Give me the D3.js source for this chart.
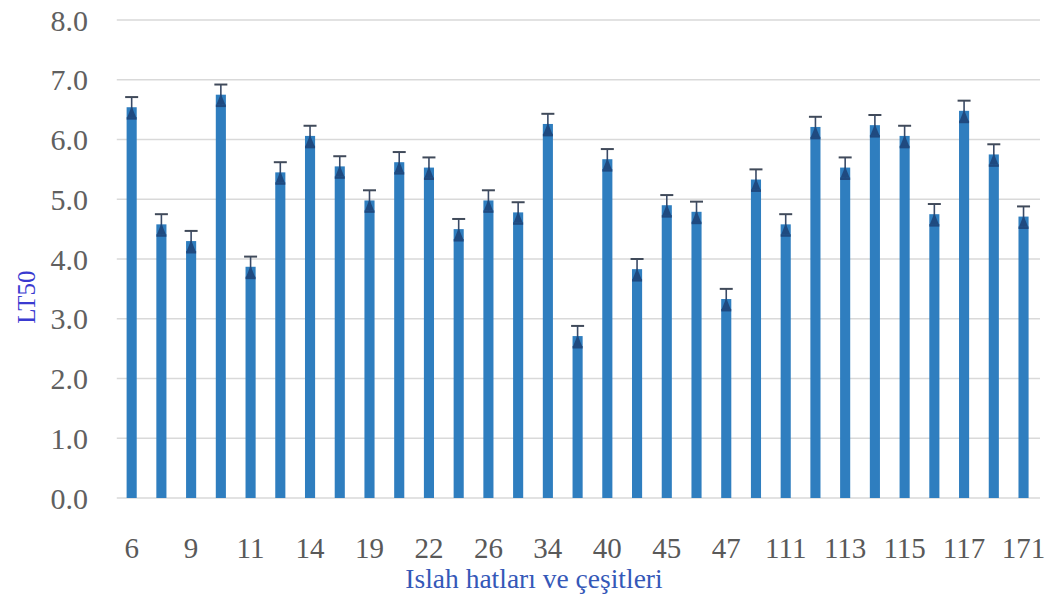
<!DOCTYPE html>
<html>
<head>
<meta charset="utf-8">
<script src="https://cdn.jsdelivr.net/npm/d3@7"></script>
<style>
  html, body { margin: 0; padding: 0; background: #ffffff; }
  svg { display: block; }
</style>
</head>
<body>
<svg id="chart" width="1054" height="596"></svg>
<script>
// Categories (every other label is shown on the axis, as in the original)
const categories = ["6","8","9","10","11","12","14","18","19","20","22","25","26","33","34","38",
                    "40","42","45","46","47","110","111","112","113","114","115","116","117","170","171"];
const lt50Values = [6.54,4.58,4.30,6.75,3.87,5.45,6.06,5.55,4.98,5.62,5.53,4.50,4.98,4.78,6.26,2.71,
                    5.67,3.83,4.90,4.79,3.33,5.33,4.58,6.21,5.53,6.24,6.06,4.75,6.48,5.75,4.71];
const lt50Errors = [0.17,0.17,0.17,0.17,0.17,0.17,0.17,0.17,0.17,0.17,0.17,0.17,0.17,0.17,0.17,0.17,
                    0.17,0.17,0.17,0.17,0.17,0.17,0.17,0.17,0.17,0.17,0.17,0.17,0.17,0.17,0.17];
const yTicks = [0,1,2,3,4,5,6,7,8];
const shownLabels = categories.filter((d, i) => i % 2 === 0);

const svg = d3.select("#chart");
const plot = { left: 116.8, right: 1038.4, top: 20, bottom: 498 };
const gridRight = 1040;

const x = d3.scaleBand().domain(categories).range([plot.left, plot.right])
  .paddingInner(0.66).paddingOuter(0.33);
const y = d3.scaleLinear().domain([0, 8]).range([plot.bottom, plot.top]);

// Gridlines
svg.append("g").selectAll("line").data(yTicks).join("line")
  .attr("x1", plot.left).attr("x2", gridRight)
  .attr("y1", d => y(d)).attr("y2", d => y(d))
  .attr("stroke", "#d9d9d9").attr("stroke-width", 1.6);

// Y axis labels
const yAxis = d3.axisLeft(y).tickValues(yTicks).tickFormat(d3.format(".1f")).tickSize(0).tickPadding(0);
const gy = svg.append("g").attr("transform", "translate(88,0)").call(yAxis);
gy.select(".domain").remove();
gy.selectAll("text").attr("font-family", "'Liberation Serif', 'Times New Roman', serif")
  .attr("font-size", 30).attr("fill", "#606060").attr("dy", "0.34em");

// X axis labels
const xAxis = d3.axisBottom(x).tickValues(shownLabels).tickSize(0).tickPadding(0);
const gx = svg.append("g").attr("transform", "translate(0,558)").call(xAxis);
gx.select(".domain").remove();
gx.selectAll("text").attr("font-family", "'Liberation Serif', 'Times New Roman', serif")
  .attr("font-size", 29).attr("fill", "#595959").attr("dy", 0);

// Bars
const data = categories.map((c, i) => ({ c, v: lt50Values[i], e: lt50Errors[i] }));
svg.append("g").selectAll("rect").data(data).join("rect")
  .attr("x", d => x(d.c)).attr("width", x.bandwidth())
  .attr("y", d => y(d.v)).attr("height", d => y(0) - y(d.v))
  .attr("fill", "#2f7ebf");

// Error bars
const eb = svg.append("g").selectAll("g").data(data).join("g")
  .attr("transform", d => `translate(${x(d.c) + x.bandwidth() / 2},0)`);
eb.append("line")
  .attr("x1", 0).attr("x2", 0)
  .attr("y1", d => y(d.v - d.e)).attr("y2", d => y(d.v + d.e))
  .attr("stroke", "#3a4a66").attr("stroke-width", 1.6);
eb.append("line")
  .attr("x1", -6.5).attr("x2", 6.5)
  .attr("y1", d => y(d.v + d.e)).attr("y2", d => y(d.v + d.e))
  .attr("stroke", "#404a5a").attr("stroke-width", 2);
eb.append("path")
  .attr("d", d => {
    const top = y(d.v) - 1, base = y(d.v - 0.17);
    return `M0,${top} L-4.5,${base} L4.5,${base} Z`;
  })
  .attr("fill", "#1f4a80");
eb.append("line")
  .attr("x1", -5).attr("x2", 5)
  .attr("y1", d => y(d.v - d.e) + 1).attr("y2", d => y(d.v - d.e) + 1)
  .attr("stroke", "#1f4a80").attr("stroke-width", 2.5);

// Axis titles
svg.append("text")
  .attr("transform", "translate(35,297) rotate(-90)")
  .attr("text-anchor", "middle")
  .attr("font-family", "'Liberation Serif', 'Times New Roman', serif")
  .attr("font-size", 25).attr("fill", "#3a3ad0")
  .text("LT50");

svg.append("text")
  .attr("x", 534).attr("y", 588)
  .attr("text-anchor", "middle")
  .attr("font-family", "'Liberation Serif', 'Times New Roman', serif")
  .attr("font-size", 27.5).attr("fill", "#3558b8")
  .text("Islah hatları ve çeşitleri");
</script>
</body>
</html>
